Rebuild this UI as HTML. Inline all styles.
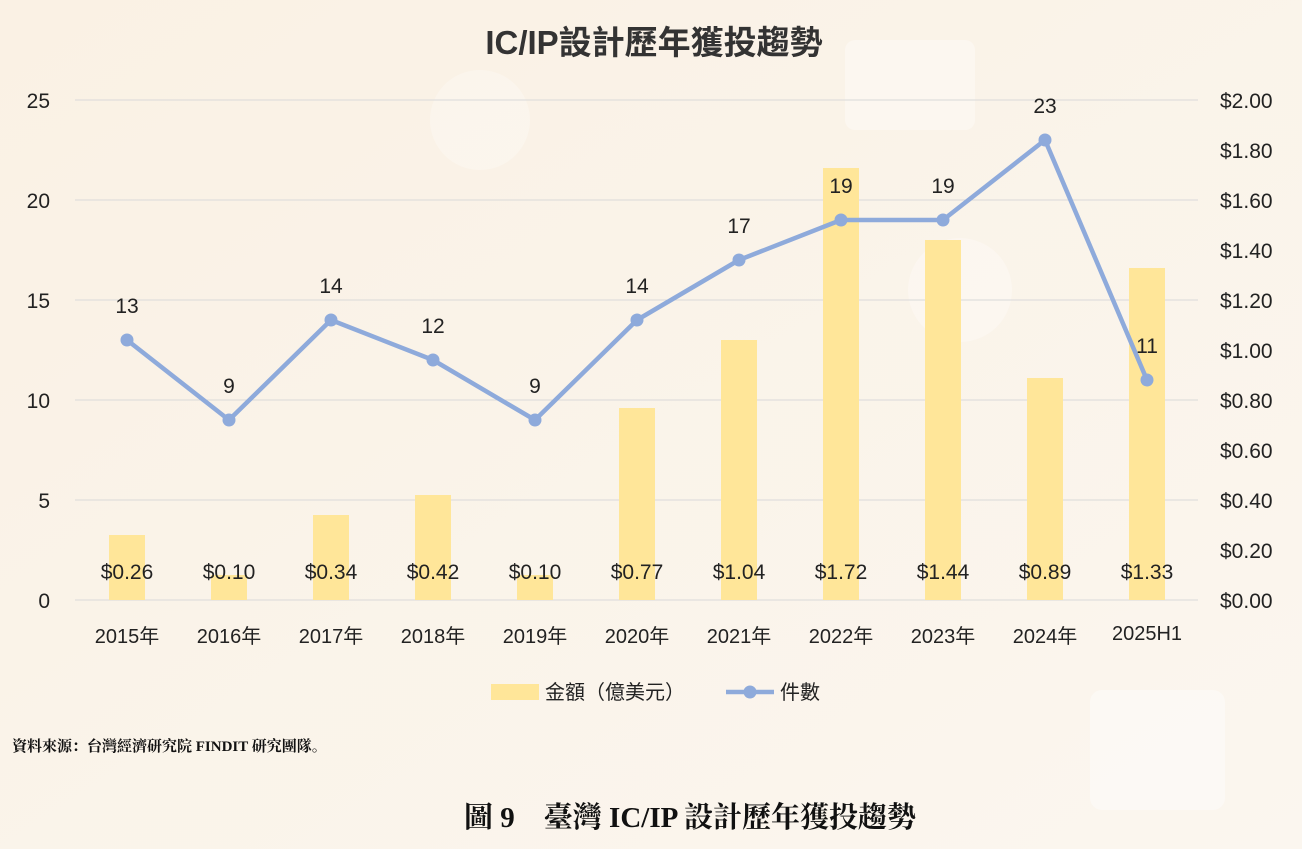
<!DOCTYPE html>
<html><head><meta charset="utf-8"><style>
html,body{margin:0;padding:0;width:1302px;height:849px;overflow:hidden;background:#fbf6ee;}
svg{display:block}
</style></head><body>
<svg width="1302" height="849" xmlns="http://www.w3.org/2000/svg" font-family="'Liberation Sans','Noto Sans CJK TC',sans-serif">
<defs><linearGradient id="bg" x1="0" y1="0" x2="1" y2="1"><stop offset="0" stop-color="#faf1e4"/><stop offset="1" stop-color="#fbf6ef"/></linearGradient></defs>
<rect width="1302" height="849" fill="url(#bg)"/>
<rect x="845" y="40" width="130" height="90" rx="10" fill="#fff" opacity="0.35"/>
<circle cx="960" cy="290" r="52" fill="#fff" opacity="0.3"/>
<circle cx="480" cy="120" r="50" fill="#fff" opacity="0.25"/>
<rect x="1090" y="690" width="135" height="120" rx="12" fill="#fff" opacity="0.4"/>
<text x="654" y="54" text-anchor="middle" font-size="33" font-weight="bold" fill="#333">IC/IP設計歷年獲投趨勢</text>
<g stroke="#d9d9d9" stroke-width="1">
<line x1="75" y1="100" x2="1198" y2="100"/><line x1="75" y1="200" x2="1198" y2="200"/><line x1="75" y1="300" x2="1198" y2="300"/><line x1="75" y1="400" x2="1198" y2="400"/><line x1="75" y1="500" x2="1198" y2="500"/><line x1="75" y1="600" x2="1198" y2="600"/>
</g>
<g font-size="21" fill="#222" text-anchor="end">
<text x="50" y="108">25</text><text x="50" y="208">20</text><text x="50" y="308">15</text><text x="50" y="408">10</text><text x="50" y="508">5</text><text x="50" y="608">0</text>
</g>
<g font-size="21" fill="#222" text-anchor="start">
<text x="1220" y="108">$2.00</text><text x="1220" y="158">$1.80</text><text x="1220" y="208">$1.60</text><text x="1220" y="258">$1.40</text><text x="1220" y="308">$1.20</text><text x="1220" y="358">$1.00</text><text x="1220" y="408">$0.80</text><text x="1220" y="458">$0.60</text><text x="1220" y="508">$0.40</text><text x="1220" y="558">$0.20</text><text x="1220" y="608">$0.00</text>
</g>
<g fill="#ffe699">
<rect x="109" y="535" width="36" height="65"/><rect x="211" y="575" width="36" height="25"/><rect x="313" y="515" width="36" height="85"/><rect x="415" y="495" width="36" height="105"/><rect x="517" y="575" width="36" height="25"/><rect x="619" y="408" width="36" height="192"/><rect x="721" y="340" width="36" height="260"/><rect x="823" y="168" width="36" height="432"/><rect x="925" y="240" width="36" height="360"/><rect x="1027" y="378" width="36" height="222"/><rect x="1129" y="268" width="36" height="332"/>
</g>
<g font-size="21" fill="#222" text-anchor="middle">
<text x="127" y="579">$0.26</text><text x="229" y="579">$0.10</text><text x="331" y="579">$0.34</text><text x="433" y="579">$0.42</text><text x="535" y="579">$0.10</text><text x="637" y="579">$0.77</text><text x="739" y="579">$1.04</text><text x="841" y="579">$1.72</text><text x="943" y="579">$1.44</text><text x="1045" y="579">$0.89</text><text x="1147" y="579">$1.33</text>
</g>
<polyline fill="none" stroke="#8eaadb" stroke-width="4.5" stroke-linejoin="round" points="127,340 229,420 331,320 433,360 535,420 637,320 739,260 841,220 943,220 1045,140 1147,380"/>
<g fill="#8eaadb">
<circle cx="127" cy="340" r="6.5"/><circle cx="229" cy="420" r="6.5"/><circle cx="331" cy="320" r="6.5"/><circle cx="433" cy="360" r="6.5"/><circle cx="535" cy="420" r="6.5"/><circle cx="637" cy="320" r="6.5"/><circle cx="739" cy="260" r="6.5"/><circle cx="841" cy="220" r="6.5"/><circle cx="943" cy="220" r="6.5"/><circle cx="1045" cy="140" r="6.5"/><circle cx="1147" cy="380" r="6.5"/>
</g>
<g font-size="21" fill="#222" text-anchor="middle">
<text x="127" y="313">13</text><text x="229" y="393">9</text><text x="331" y="293">14</text><text x="433" y="333">12</text><text x="535" y="393">9</text><text x="637" y="293">14</text><text x="739" y="233">17</text><text x="841" y="193">19</text><text x="943" y="193">19</text><text x="1045" y="113">23</text><text x="1147" y="353">11</text>
</g>
<g font-size="20" fill="#222" text-anchor="middle">
<text x="127" y="643">2015年</text><text x="229" y="643">2016年</text><text x="331" y="643">2017年</text><text x="433" y="643">2018年</text><text x="535" y="643">2019年</text><text x="637" y="643">2020年</text><text x="739" y="643">2021年</text><text x="841" y="643">2022年</text><text x="943" y="643">2023年</text><text x="1045" y="643">2024年</text><text x="1147" y="640">2025H1</text>
</g>
<rect x="491" y="684" width="48" height="16" fill="#ffe699"/>
<text x="545" y="699" font-size="20" fill="#222">金額（億美元）</text>
<line x1="726" y1="692" x2="774" y2="692" stroke="#8eaadb" stroke-width="4.5"/>
<circle cx="750" cy="692" r="6.5" fill="#8eaadb"/>
<text x="780" y="699" font-size="20" fill="#222">件數</text>
<text x="12" y="751" font-size="15" font-weight="bold" fill="#111" font-family="'Liberation Serif','Noto Serif CJK SC',serif">資料來源：台灣經濟研究院 FINDIT 研究團隊。</text>
<text x="690" y="827" text-anchor="middle" font-size="29" font-weight="bold" fill="#111" font-family="'Liberation Serif','Noto Serif CJK SC',serif">圖 9　臺灣 IC/IP 設計歷年獲投趨勢</text>
</svg>
</body></html>
